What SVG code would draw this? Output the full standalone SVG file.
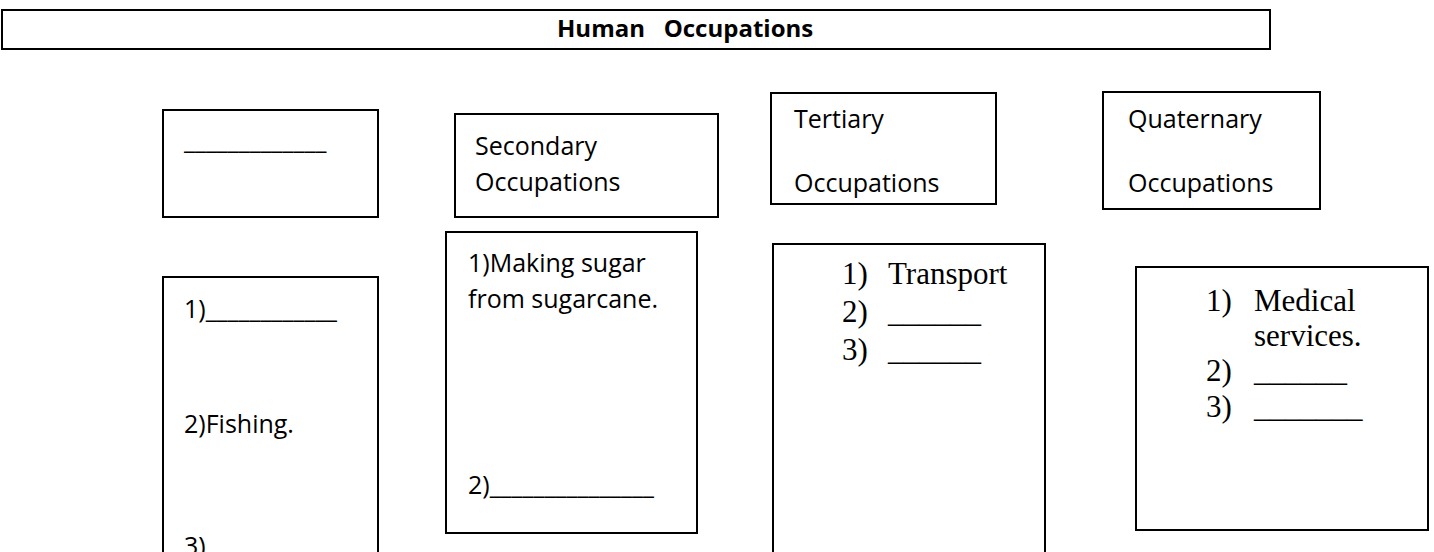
<svg xmlns="http://www.w3.org/2000/svg" width="1434" height="552" viewBox="0 0 1434 552">
<style>
.box{fill:#fff;stroke:#000;stroke-width:2}
.t{font-family:"Open Sans","Liberation Sans",sans-serif;font-size:25px;fill:#000}
.tb{font-family:"Open Sans","Liberation Sans",sans-serif;font-size:24px;font-weight:bold;fill:#000}
.r{font-family:"Liberation Serif","Times New Roman",serif;font-size:31px;fill:#000}
</style>
<rect width="1434" height="552" fill="#fff"/>
<g id="title">
<rect class="box" x="2" y="10" width="1268" height="39"/>
<text class="tb" x="557" y="37" xml:space="preserve">Human   Occupations</text>
</g>
<g id="primary-head">
<rect class="box" x="163" y="110" width="215" height="107"/>
<text class="t" x="184" y="149">_____________</text>
</g>
<g id="secondary-head">
<rect class="box" x="455" y="114" width="263" height="103"/>
<text class="t" x="475" y="155">Secondary</text>
<text class="t" x="475" y="191">Occupations</text>
</g>
<g id="tertiary-head">
<rect class="box" x="771" y="93" width="225" height="111"/>
<text class="t" x="794" y="128">Tertiary</text>
<text class="t" x="794" y="192">Occupations</text>
</g>
<g id="quaternary-head">
<rect class="box" x="1103" y="92" width="217" height="117"/>
<text class="t" x="1128" y="128">Quaternary</text>
<text class="t" x="1128" y="192">Occupations</text>
</g>
<g id="primary-list">
<rect class="box" x="163" y="277" width="215" height="290"/>
<text class="t" x="184" y="318">1)____________</text>
<text class="t" x="184" y="433">2)Fishing.</text>
<text class="t" x="184" y="555">3)</text>
</g>
<g id="secondary-list">
<rect class="box" x="446" y="232" width="251" height="301"/>
<text class="t" x="468" y="272">1)Making sugar</text>
<text class="t" x="468" y="308">from sugarcane.</text>
<text class="t" x="468" y="494">2)_______________</text>
</g>
<g id="tertiary-list">
<rect class="box" x="773" y="244" width="272" height="320"/>
<text class="r" x="842" y="284">1)</text><text class="r" x="888" y="284">Transport</text>
<text class="r" x="842" y="322">2)</text><text class="r" x="888" y="322">______</text>
<text class="r" x="842" y="360">3)</text><text class="r" x="888" y="360">______</text>
</g>
<g id="quaternary-list">
<rect class="box" x="1136" y="267" width="292" height="263"/>
<text class="r" x="1206" y="311">1)</text><text class="r" x="1254" y="311">Medical</text>
<text class="r" x="1254" y="346">services.</text>
<text class="r" x="1206" y="381">2)</text><text class="r" x="1254" y="381">______</text>
<text class="r" x="1206" y="417">3)</text><text class="r" x="1254" y="417">_______</text>
</g>
<g id="connectors"></g>
</svg>
